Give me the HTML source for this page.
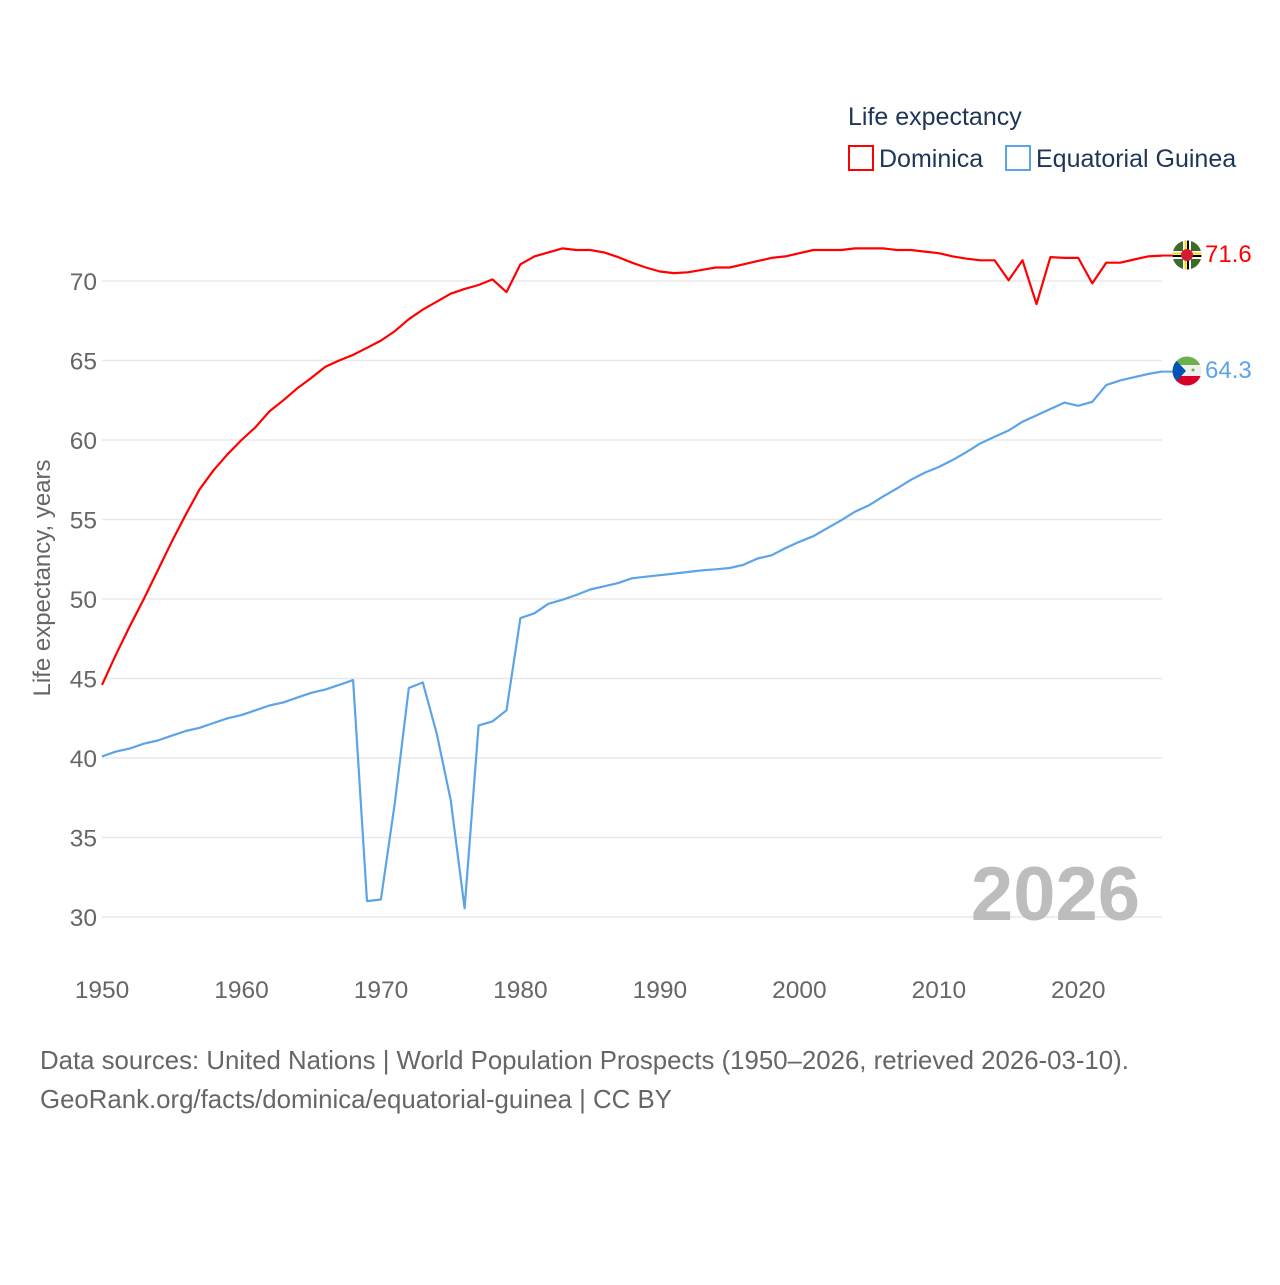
<!DOCTYPE html>
<html><head><meta charset="utf-8">
<style>
html,body{margin:0;padding:0;background:#fff;}
body{width:1280px;height:1280px;overflow:hidden;font-family:"Liberation Sans",sans-serif;}
svg text{font-family:"Liberation Sans",sans-serif;}
</style></head>
<body>
<svg id="chart" width="1280" height="1280" viewBox="0 0 1280 1280" xmlns="http://www.w3.org/2000/svg">
  <text x="848" y="125" font-size="25" fill="#1d3557">Life expectancy</text>
  <g>
    <rect x="849" y="146" width="24" height="24" fill="none" stroke="#ff0000" stroke-width="2"/>
    <text x="879" y="167" font-size="25" fill="#1d3557">Dominica</text>
  </g>
  <g>
    <rect x="1006" y="146" width="24" height="24" fill="none" stroke="#5ba4e8" stroke-width="2"/>
    <text x="1036" y="167" font-size="25" fill="#1d3557">Equatorial Guinea</text>
  </g>
  <g id="grid"></g>
  <g id="yticks"></g>
  <g id="xticks"></g>
  <text transform="translate(50,578) rotate(-90)" text-anchor="middle" font-size="24" fill="#666">Life expectancy, years</text>
  <text x="1140" y="920" text-anchor="end" font-size="76" font-weight="bold" fill="#bdbdbd">2026</text>
  <g id="series"></g>
  <g>
    <clipPath id="cd"><circle cx="1187" cy="255" r="14.5"/></clipPath>
    <g clip-path="url(#cd)">
      <rect x="1170" y="238" width="34" height="34" fill="#3e6b2a"/>
      <rect x="1170" y="251" width="34" height="8" fill="#fff"/>
      <rect x="1170" y="252.5" width="34" height="2" fill="#fcd116"/>
      <rect x="1170" y="255" width="34" height="2" fill="#000"/>
      <rect x="1183" y="238" width="8" height="34" fill="#fff"/>
      <rect x="1184.5" y="238" width="2" height="34" fill="#fcd116"/>
      <rect x="1187" y="238" width="2" height="34" fill="#000"/>
      <circle cx="1187" cy="255" r="6" fill="#d41c30"/>
    </g>
  </g>
  <g>
    <clipPath id="ce"><circle cx="1187" cy="371" r="14.5"/></clipPath>
    <g clip-path="url(#ce)">
      <rect x="1170" y="354" width="34" height="11" fill="#6ab04c"/>
      <rect x="1170" y="365" width="34" height="11" fill="#f0f0f0"/>
      <rect x="1170" y="376" width="34" height="12" fill="#d80027"/>
      <polygon points="1170,354 1186,371 1170,388" fill="#0052b4"/>
      <circle cx="1193" cy="370" r="1.5" fill="#6ab04c"/>
    </g>
  </g>
  <text x="1205" y="262" font-size="24" fill="#ff0000">71.6</text>
  <text x="1205" y="378" font-size="24" fill="#5ba4e8">64.3</text>
  <text x="40" y="1069" font-size="25.8" fill="#666">Data sources: United Nations | World Population Prospects (1950–2026, retrieved 2026-03-10).</text>
  <text x="40" y="1108" font-size="25.8" fill="#666">GeoRank.org/facts/dominica/equatorial-guinea | CC BY</text>
</svg>
<script>
const years = [];
for (let y = 1950; y <= 2026; y++) years.push(y);
const dominica = [44.6,46.5,48.3,50.0,51.8,53.6,55.3,56.9,58.1,59.1,60.0,60.8,61.8,62.5,63.25,63.9,64.6,65.0,65.35,65.8,66.25,66.85,67.6,68.2,68.7,69.2,69.5,69.75,70.1,69.3,71.05,71.55,71.8,72.05,71.95,71.95,71.8,71.5,71.15,70.85,70.6,70.5,70.55,70.7,70.85,70.85,71.05,71.25,71.45,71.55,71.75,71.95,71.95,71.95,72.05,72.05,72.05,71.95,71.95,71.85,71.75,71.55,71.4,71.3,71.3,70.05,71.3,68.55,71.5,71.45,71.45,69.85,71.15,71.15,71.35,71.55,71.6];
const eqGuinea = [40.1,40.4,40.6,40.9,41.1,41.4,41.7,41.9,42.2,42.5,42.7,43.0,43.3,43.5,43.8,44.1,44.3,44.6,44.9,31.0,31.1,37.2,44.4,44.75,41.55,37.35,30.55,42.05,42.3,43.0,48.8,49.1,49.7,49.95,50.25,50.6,50.8,51.0,51.3,51.4,51.5,51.6,51.7,51.8,51.87,51.95,52.15,52.55,52.75,53.2,53.6,53.95,54.45,54.95,55.5,55.9,56.45,56.95,57.5,57.95,58.3,58.75,59.25,59.8,60.2,60.6,61.15,61.55,61.95,62.35,62.15,62.4,63.45,63.75,63.95,64.15,64.3];
const yTickValues = [30,35,40,45,50,55,60,65,70];
const xTickValues = [1950,1960,1970,1980,1990,2000,2010,2020];

const NS = "http://www.w3.org/2000/svg";
const X0 = 102, X1 = 1162, Y30 = 917, Y70 = 281;
function xs(yr){ return X0 + (yr - 1950) / (2026 - 1950) * (X1 - X0); }
function ys(v){ return Y30 - (v - 30) / 40 * (Y30 - Y70); }

const grid = document.getElementById('grid');
const yt = document.getElementById('yticks');
yTickValues.forEach(v => {
  const l = document.createElementNS(NS,'line');
  l.setAttribute('x1', X0); l.setAttribute('x2', X1);
  l.setAttribute('y1', ys(v)); l.setAttribute('y2', ys(v));
  l.setAttribute('stroke', '#e8e8e8'); l.setAttribute('stroke-width', '1.5');
  
  
  grid.appendChild(l);
  const t = document.createElementNS(NS,'text');
  t.setAttribute('x', 97); t.setAttribute('y', ys(v) + 9);
  t.setAttribute('text-anchor', 'end'); t.setAttribute('font-size', '24.5'); t.setAttribute('fill', '#666');
  t.textContent = v;
  
  
  yt.appendChild(t);
});
const xt = document.getElementById('xticks');
xTickValues.forEach(yr => {
  const t = document.createElementNS(NS,'text');
  t.setAttribute('x', xs(yr)); t.setAttribute('y', 998);
  t.setAttribute('text-anchor', 'middle'); t.setAttribute('font-size', '24.5'); t.setAttribute('fill', '#666');
  t.textContent = yr;
  
  
  xt.appendChild(t);
});
const series = document.getElementById('series');
function drawLine(vals, color, name){
  const p = document.createElementNS(NS,'polyline');
  p.setAttribute('points', vals.map((v,i) => xs(years[i]).toFixed(1) + ',' + ys(v).toFixed(1)).join(' '));
  p.setAttribute('fill', 'none'); p.setAttribute('stroke', color); p.setAttribute('stroke-width', '2.2');
  p.setAttribute('stroke-linejoin', 'round');
  
  
  series.appendChild(p);
  const c = document.createElementNS(NS,'line');
  const last = vals[vals.length-1];
  c.setAttribute('x1', X1); c.setAttribute('x2', 1174);
  c.setAttribute('y1', ys(last)); c.setAttribute('y2', ys(last));
  c.setAttribute('stroke', color); c.setAttribute('stroke-width', '2');
  
  
  series.appendChild(c);
}
drawLine(dominica, '#ff0000', 'line-dominica');
drawLine(eqGuinea, '#5ba4e8', 'line-equatorial-guinea');
</script>
</body></html>
